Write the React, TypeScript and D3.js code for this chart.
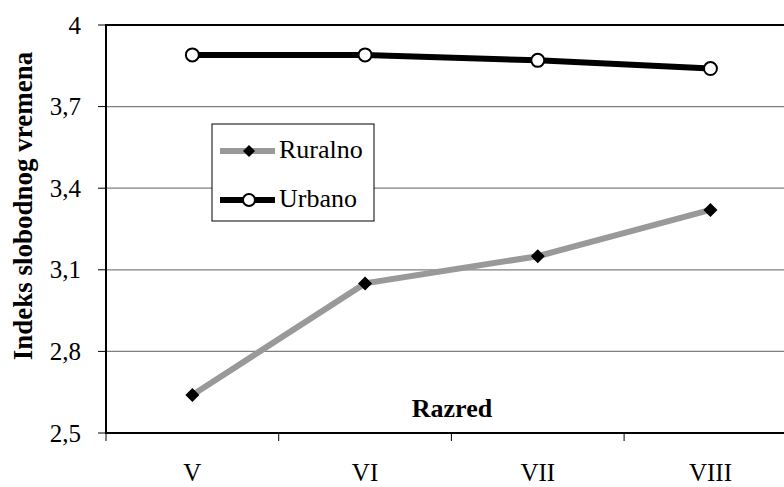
import * as d3 from "d3";

const categories = ["V", "VI", "VII", "VIII"];
const ruralno = [2.64, 3.05, 3.15, 3.32];
const urbano = [3.89, 3.89, 3.87, 3.84];
const yTicks = [2.5, 2.8, 3.1, 3.4, 3.7, 4];

const width = 784;
const height = 487;
const marginLeft = 106;
const marginTop = 25;
const plotBottom = 433;
const bandWidth = 172.7;

const serif = { fontFamily: "Liberation Serif" };

const App = () => {
  const x = d3.scaleBand<string>()
    .domain(categories)
    .range([marginLeft, marginLeft + bandWidth * categories.length]);

  const y = d3.scaleLinear().domain([2.5, 4]).range([plotBottom, marginTop]);

  const cx = (c: string) => (x(c) ?? 0) + x.bandwidth() / 2;

  const line = d3.line<number>()
    .x((_, i) => cx(categories[i]))
    .y(d => y(d));

  const fmt = (v: number) => (v === 4 ? "4" : d3.format(".1f")(v).replace(".", ","));

  const diamond = (px: number, py: number, r = 7) =>
    `M${px},${py - r}L${px + r},${py}L${px},${py + r}L${px - r},${py}Z`;

  return (
    <svg width={width} height={height} style={{ position: "absolute", left: 0, top: 0, background: "#fff" }}>
      {/* gridlines */}
      {yTicks.filter(t => t !== 2.5 && t !== 4).map(t => (
        <line key={t} x1={marginLeft} x2={width} y1={y(t)} y2={y(t)} stroke="#808080" strokeWidth={1.3} />
      ))}
      <line x1={marginLeft} x2={width} y1={y(4)} y2={y(4)} stroke="#000" strokeWidth={2} />

      {/* y ticks + labels */}
      {yTicks.map(t => (
        <g key={t}>
          <line x1={98} x2={marginLeft} y1={y(t)} y2={y(t)} stroke="#000" strokeWidth={1} />
          <text x={81} y={y(t)} dy="0.34em" textAnchor="end" fontSize={25} style={serif}>{fmt(t)}</text>
        </g>
      ))}

      {/* x ticks + labels */}
      {categories.map(c => (
        <g key={c}>
          <line x1={x(c)} x2={x(c)} y1={plotBottom} y2={plotBottom + 8} stroke="#000" strokeWidth={1} />
          <text x={cx(c)} y={481} textAnchor="middle" fontSize={25} style={serif}>{c}</text>
        </g>
      ))}

      {/* axes */}
      <line x1={marginLeft} x2={marginLeft} y1={marginTop - 1} y2={plotBottom + 1} stroke="#000" strokeWidth={2} />
      <line x1={marginLeft} x2={width} y1={plotBottom} y2={plotBottom} stroke="#000" strokeWidth={2} />

      {/* series */}
      <path d={line(ruralno) || ""} fill="none" stroke="#999999" strokeWidth={6} />
      <path d={line(urbano) || ""} fill="none" stroke="#000" strokeWidth={6} />
      {ruralno.map((v, i) => (
        <path key={i} d={diamond(cx(categories[i]), y(v))} fill="#000" />
      ))}
      {urbano.map((v, i) => (
        <circle key={i} cx={cx(categories[i])} cy={y(v)} r={6.5} fill="#fff" stroke="#000" strokeWidth={2} />
      ))}

      {/* axis titles */}
      <text x={452} y={417} textAnchor="middle" fontSize={26} fontWeight="bold" style={serif}>Razred</text>
      <text transform={`translate(32,206) rotate(-90)`} textAnchor="middle" fontSize={27} fontWeight="bold" style={serif}>
        Indeks slobodnog vremena
      </text>

      {/* legend */}
      <rect x={212} y={124} width={162} height={97} fill="#fff" stroke="#000" strokeWidth={1} />
      <line x1={220} x2={275} y1={151} y2={151} stroke="#999999" strokeWidth={6} />
      <path d={diamond(249, 151, 6)} fill="#000" />
      <text x={279} y={158} fontSize={26} style={serif}>Ruralno</text>
      <line x1={220} x2={275} y1={200} y2={200} stroke="#000" strokeWidth={6} />
      <circle cx={249} cy={200} r={6} fill="#fff" stroke="#000" strokeWidth={2} />
      <text x={279} y={207} fontSize={26} style={serif}>Urbano</text>
    </svg>
  );
};

export default App;
